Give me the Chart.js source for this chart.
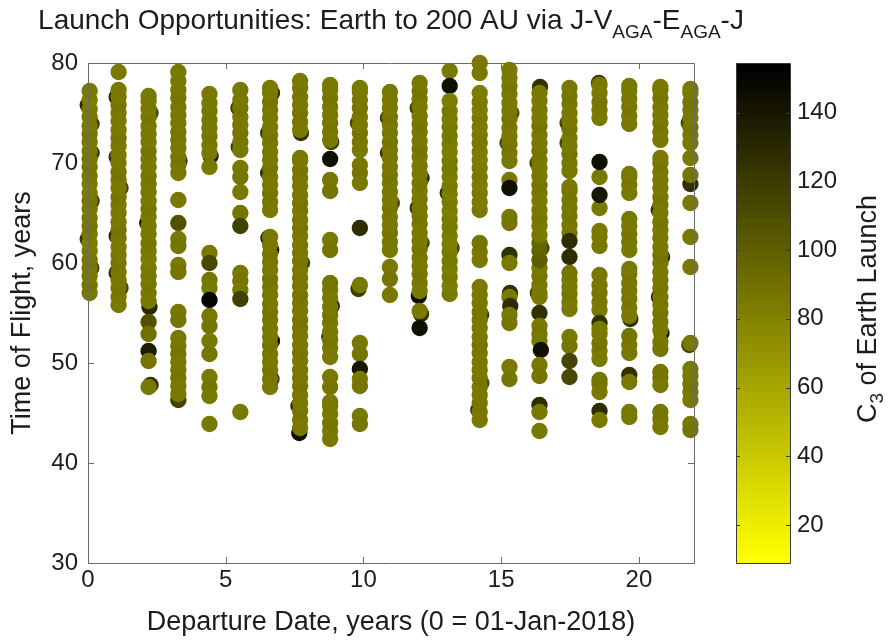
<!DOCTYPE html>
<html>
<head>
<meta charset="utf-8">
<title>Launch Opportunities: Earth to 200 AU</title>
<script src="https://cdn.jsdelivr.net/npm/chart.js@4/dist/chart.umd.min.js"></script>
<style>
  html, body { margin: 0; padding: 0; background: #ffffff; }
  canvas { display: block; }
</style>
</head>
<body>
<canvas id="chart" width="893" height="642"></canvas>
<script>
// Launch window centres, years after 01-Jan-2018 (one window per Jupiter synodic period)
const windowDeparture = [0.06, 1.11, 2.20, 3.28, 4.41, 5.53, 6.61, 7.70, 8.79, 9.87, 10.96,
                         12.04, 13.13, 14.22, 15.30, 16.39, 17.48, 18.57, 19.65, 20.78, 21.87];

// Trajectories found in each window: [time of flight (yr), C3 (km^2/s^2), departure shift (yr)]
const w00 = [[75.8,128,-0.07],[73.9,120,0.07],[71.0,125,0.07],[66.2,118,0.07],[62.4,122,-0.07],[59.5,118,0.06],
  [57.0,85],[57.8,87],[58.7,84],[59.5,86],[60.3,88],[61.2,85],[62.0,83],[62.9,86],[63.7,87],[64.5,84],[65.4,86],
  [66.2,88],[67.0,85],[67.9,83],[68.7,86],[69.6,87],[70.4,84],[71.2,86],[72.1,85],[72.9,87],[73.7,84],[74.6,86],
  [75.4,85],[76.3,83],[77.2,86]];
const w01 = [[76.6,130,-0.07],[70.6,125,-0.07],[67.5,118,0.07],[62.7,130,-0.07],[59.0,128,-0.07],[57.5,115,0.07],
  [55.8,86],[56.6,84],[57.5,87],[58.3,85],[59.1,86],[60.0,88],[60.8,85],[61.6,84],[62.5,86],[63.3,87],[64.1,85],
  [65.0,86],[65.8,84],[66.6,87],[67.5,85],[68.3,86],[69.1,88],[70.0,85],[70.8,84],[71.7,86],[72.5,87],[73.3,85],
  [74.2,86],[75.0,84],[75.8,87],[76.6,85],[77.3,86],[79.1,85]];
const w02 = [[75.0,115,0.07],[64.0,140,-0.05],[55.6,130,0.03],[47.8,125,0.07],
  [56.2,86],[57.0,84],[57.9,87],[58.7,85],[59.5,86],[60.4,83],[61.2,86],[62.0,88],[62.9,85],[63.7,86],[64.6,84],
  [65.4,87],[66.2,85],[67.1,86],[67.9,84],[68.7,87],[69.6,85],[70.4,86],[71.2,88],[72.1,85],[72.9,84],[73.7,86],
  [74.6,87],[75.4,85],[76.2,86],[76.7,84],
  [54.1,108],[52.9,90],[51.2,138],[50.2,88],[47.6,86]];
const w03 = [[70.2,125,0.04],
  [69.0,86],[69.8,84],[70.6,87],[71.5,85],[72.3,86],[73.1,88],[74.0,85],[74.8,84],[75.6,86],[76.5,87],[77.3,85],
  [78.2,86],[79.1,84],
  [66.3,86],[64.0,108],[62.4,86],[61.7,88],[59.8,86],[59.1,88],[55.1,86],[54.3,88],
  [46.3,118],[52.5,86],[51.7,84],[50.9,87],[50.1,85],[49.3,86],[48.5,88],[47.7,85],[46.9,86]];
const w04 = [[70.7,135,0.04],
  [71.0,86],[71.8,84],[72.7,87],[73.5,85],[74.3,86],[75.2,88],[76.0,85],[76.9,86],
  [69.6,86],[61.0,86],[60.0,112],[58.3,88],[57.5,86],[56.3,150],[54.7,86],[53.7,88],[52.2,86],[50.9,88],
  [48.6,86],[47.6,88],[46.7,86],[43.9,86]];
const w05 = [[75.5,118,-0.07],[71.6,120,-0.06],
  [71.3,86],[72.1,84],[73.0,87],[73.8,85],[74.6,86],[75.5,88],[76.3,85],[77.3,86],
  [69.5,86],[68.6,88],[67.1,86],[65.0,88],[63.7,118],[59.0,86],[58.2,88],[57.3,86],[56.4,118],[45.1,86]];
const w06 = [[77.0,125,0.07],[73.0,120,-0.07],[69.0,125,-0.07],[62.5,130,-0.06],[61.3,140,0.04],[52.2,140,0.07],
  [48.4,125,0.05],
  [65.3,86],[66.1,84],[67.0,87],[67.8,85],[68.6,86],[69.5,88],[70.3,85],[71.1,84],[72.0,86],[72.8,87],[73.6,85],
  [74.5,86],[75.3,84],[76.1,87],[77.0,85],[77.5,86],
  [47.6,86],[48.4,84],[49.3,87],[50.1,85],[50.9,86],[51.8,88],[52.6,85],[53.4,84],[54.3,86],[55.1,87],[55.9,85],
  [56.8,86],[57.6,84],[58.4,87],[59.3,85],[60.1,86],[60.9,88],[61.8,85],[62.6,84]];
const w07 = [[73.0,125,0.03],[45.7,130,-0.06],[43.0,145,-0.03],[60.0,118,0.07],
  [73.3,86],[74.1,84],[75.0,87],[75.8,85],[76.6,86],[77.5,88],[78.2,85],
  [43.5,86],[44.3,84],[45.2,87],[46.0,85],[46.8,86],[47.7,88],[48.5,85],[49.3,84],[50.2,86],[51.0,87],[51.8,85],
  [52.7,86],[53.5,84],[54.3,87],[55.2,85],[56.0,86],[56.8,88],[57.7,85],[58.5,84],[59.3,86],[60.2,87],[61.0,85],
  [61.8,86],[62.7,84],[63.5,87],[64.3,85],[65.2,86],[66.0,88],[66.8,85],[67.7,84],[68.5,86],[69.3,87],[70.2,85],
  [70.5,86]];
const w08 = [[72.1,120,0.04],[55.7,128,0.06],[52.6,135,-0.03],
  [72.3,86],[73.1,84],[74.0,87],[74.8,85],[75.6,86],[76.5,88],[77.3,85],[77.8,86],
  [70.4,145],[68.3,86],[67.2,88],[62.3,86],[61.3,88],
  [50.6,86],[51.5,84],[52.3,87],[53.1,85],[54.0,86],[54.8,88],[55.6,85],[56.5,84],[57.3,86],[58.0,87],
  [48.6,86],[47.6,88],
  [42.4,86],[43.2,84],[44.0,87],[44.9,85],[45.7,86],[46.1,84]];
const w09 = [[74.0,115,-0.07],
  [71.3,86],[72.1,84],[73.0,87],[73.8,85],[74.6,86],[75.5,88],[76.3,85],[77.1,86],[77.5,84],
  [69.8,86],[69.0,88],[68.0,86],[63.5,128],[57.4,120,-0.05],[57.8,86],
  [52.0,86],[50.9,88],[49.4,140],[48.4,86],[47.7,88],[44.7,86],[43.9,88]];
const w10 = [[74.5,118,-0.07],[71.0,120,-0.07],[66.0,110,0.07],
  [61.3,86],[62.1,84],[63.0,87],[63.8,85],[64.6,86],[65.5,88],[66.3,85],[67.1,84],[68.0,86],[68.8,87],[69.6,85],
  [70.5,86],[71.3,84],[72.1,87],[73.0,85],[73.8,86],[74.6,88],[75.5,85],[76.3,84],[77.1,86],
  [59.6,86],[58.4,88],[56.8,86]];
const w11 = [[75.5,120,-0.07],[68.5,125,0.07],[65.5,125,-0.07],[62.0,118,0.07],[56.7,145,-0.03],
  [57.2,86],[58.0,84],[58.9,87],[59.7,85],[60.5,86],[61.4,88],[62.2,85],[63.0,84],[63.9,86],[64.7,87],[65.5,85],
  [66.4,86],[67.2,84],[68.0,87],[68.9,85],[69.7,86],[70.6,84],[71.4,87],[72.2,85],[73.1,86],[73.9,88],[74.7,85],
  [75.6,84],[76.4,86],[77.2,87],[78.0,85],
  [54.9,125,0.05],[55.2,86],[53.5,145]];
const w12 = [[79.2,84],[77.7,145],[67.0,125,-0.07],[61.5,115,0.07],
  [56.9,84],[57.7,82],[58.6,85],[59.4,83],[60.2,84],[61.1,86],[61.9,83],[62.7,82],[63.6,84],[64.4,85],[65.2,83],
  [66.1,84],[66.9,82],[67.7,85],[68.6,83],[69.4,84],[70.2,86],[71.1,83],[71.9,82],[72.7,84],[73.6,85],[74.4,83],
  [75.2,84],[76.2,82]];
const w13 = [[80.0,84],[79.0,86],[54.8,125,0.05],[45.3,125,-0.05],[48.0,110,0.06],
  [65.3,84],[66.1,82],[67.0,85],[67.8,83],[68.6,84],[69.5,86],[70.3,83],[71.1,82],[72.0,84],[72.8,85],[73.6,83],
  [74.5,84],[75.3,82],[76.1,85],[77.0,83],
  [60.3,86],[61.1,84],[62.0,87],
  [44.3,86],[45.1,84],[46.0,87],[46.8,85],[47.6,86],[48.5,88],[49.3,85],[50.1,84],[51.0,86],[51.8,87],[52.6,85],
  [53.5,86],[54.3,84],[55.1,87],[56.0,85],[56.8,86],[57.6,84]];
const w14 = [[72.0,115,-0.07],[75.0,110,0.07],
  [70.2,86],[71.0,84],[71.9,87],[72.7,85],[73.5,86],[74.4,88],[75.2,85],[76.0,84],[76.9,86],[77.7,87],[78.5,85],
  [79.3,86],
  [68.3,86],[67.5,145],[64.6,86],[64.0,88],[60.8,125],[60.0,86],[57.0,125,0.02],[56.6,86],[55.7,128,0.03],
  [54.8,86],[54.0,88],[49.6,86],[48.4,88]];
const w15 = [[77.6,125,0.02],[70.0,115,-0.07],[61.5,118,0.07],[57.0,115,-0.06],
  [57.0,86],[57.8,84],[58.7,87],[59.5,85],[60.3,100],[61.2,98],[62.0,96],[62.8,85],[63.7,86],[64.5,88],[65.3,85],
  [66.2,84],[67.0,86],[67.8,87],[68.7,85],[69.5,86],[70.3,84],[71.2,87],[72.0,85],[72.8,86],[73.7,88],[74.5,85],
  [75.3,84],[76.2,86],[77.0,85],
  [56.6,86],[55.0,125],[53.7,86],[52.9,88],[52.2,86],[51.3,145,0.05],[49.8,86],[48.7,88],[45.8,128],[45.1,86],
  [43.2,86]];
const w16 = [[74.0,118,-0.07],[72.0,115,-0.07],
  [69.2,86],[70.0,84],[70.9,87],[71.7,85],[72.5,86],[73.4,88],[74.2,85],[75.0,84],[75.9,86],[76.7,87],[77.5,85],
  [63.0,86],[63.8,84],[64.7,87],[65.5,85],[66.3,86],[67.2,88],[67.6,85],
  [62.2,128],[60.6,128],
  [55.4,86],[56.1,84],[56.9,87],[57.6,85],[58.3,86],[59.0,88],
  [52.6,86],[51.7,88],[50.2,115],[48.6,112]];
const w17 = [[78.0,120,-0.02],
  [74.5,86],[75.3,84],[76.1,87],[77.0,85],[77.8,86],
  [68.6,86],[70.1,145],[65.5,86],[66.8,140],
  [61.7,86],[62.6,84],[63.2,86],
  [55.3,86],[56.1,84],[57.0,87],[57.8,85],[58.8,86],
  [54.0,125],
  [50.4,86],[51.2,84],[52.0,87],[52.9,85],[53.4,86],
  [47.1,86],[47.9,84],[48.3,87],
  [45.2,128],[44.3,86]];
const w18 = [[54.4,125,0.04],[48.8,125],
  [73.9,86],[74.7,84],[75.6,87],[76.4,85],[77.2,86],[77.7,84],
  [67.0,86],[67.8,84],[68.6,87],[68.9,85],
  [61.3,86],[62.1,84],[62.9,87],[63.7,85],[64.4,86],
  [54.7,86],[55.5,84],[56.4,87],[57.2,85],[58.0,86],[58.9,88],[59.4,85],
  [51.0,86],[51.8,84],[52.7,87],
  [48.1,86],[45.1,86],[44.6,84]];
const w19 = [[65.3,125,-0.06],[60.6,125,0.06],[56.6,140,-0.05],[53.0,145,0.04],
  [72.3,86],[73.1,84],[74.0,87],[74.8,85],[75.6,86],[76.5,88],[77.3,85],[77.6,86],
  [53.3,86],[54.1,84],[55.0,87],[55.8,85],[56.6,86],[57.5,88],[58.3,85],[59.1,84],[60.0,86],[60.8,87],[61.6,85],
  [62.5,86],[63.3,84],[64.1,87],[65.0,85],[65.8,86],[66.6,88],[67.5,85],[68.3,84],[69.1,86],[70.0,87],[70.5,85],
  [52.1,86],[51.4,88],
  [47.8,86],[48.5,84],[49.1,87],
  [43.6,86],[44.4,84],[45.1,87]];
const w20 = [[74.0,115,-0.06],[67.9,128],[51.8,115,-0.04],
  [72.0,86],[72.8,84],[73.6,87],[74.5,85],[75.3,86],[76.1,88],[77.0,85],[77.4,86],
  [70.5,86],[68.8,88],[66.0,86],[62.6,86],[59.6,86],
  [52.0,86],
  [46.3,86],[47.1,84],[47.9,87],[48.7,85],[49.4,86],
  [43.9,86],[43.3,88]];

const launchWindows = [w00, w01, w02, w03, w04, w05, w06, w07, w08, w09, w10,
                       w11, w12, w13, w14, w15, w16, w17, w18, w19, w20];

// Tick labels
const departureTicks = [0, 5, 10, 15, 20];
const flightTimeTicks = [30, 40, 50, 60, 70, 80];
const c3Ticks = [20, 40, 60, 80, 100, 120, 140];
const c3Limits = [9, 154.4];

const FONT = "'Liberation Sans', Arial, Helvetica, sans-serif";
const TEXT = '#1c1c1c';

// Yellow-to-black colormap, 64 levels
const LEVELS = 64;
function c3Level(v) {
  const f = (v - c3Limits[0]) / (c3Limits[1] - c3Limits[0]);
  return Math.max(0, Math.min(LEVELS - 1, Math.floor(f * LEVELS)));
}
function levelColor(i) {
  const g = Math.round(255 * (1 - i / (LEVELS - 1)));
  return 'rgb(' + g + ',' + g + ',0)';
}
function c3Color(v) { return levelColor(c3Level(v)); }

const points = [];
launchWindows.forEach((rows, k) => {
  rows.forEach(r => points.push({ x: windowDeparture[k] + (r[2] || 0), y: r[0], c: r[1] }));
});

// Title with TeX-style subscripts
const titlePlugin = {
  id: 'subscriptTitle',
  afterDraw(chart) {
    const ctx = chart.ctx;
    const parts = [
      ['Launch Opportunities: Earth to 200 AU via J-V', false],
      ['AGA', true], ['-E', false], ['AGA', true], ['-J', false]
    ];
    const big = '28px ' + FONT, small = '19px ' + FONT;
    ctx.save();
    let total = 0;
    parts.forEach(p => { ctx.font = p[1] ? small : big; total += ctx.measureText(p[0]).width; });
    const area = chart.chartArea;
    let x = (area.left + area.right) / 2 - total / 2;
    const base = 29;
    ctx.fillStyle = TEXT;
    ctx.textBaseline = 'alphabetic';
    ctx.textAlign = 'left';
    parts.forEach(p => {
      ctx.font = p[1] ? small : big;
      ctx.fillText(p[0], x, p[1] ? base + 9 : base);
      x += ctx.measureText(p[0]).width;
    });
    ctx.restore();
  }
};

// Axes box with inward ticks
const framePlugin = {
  id: 'axesFrame',
  afterDatasetsDraw(chart) {
    const ctx = chart.ctx;
    const { left, right, top, bottom } = chart.chartArea;
    const xs = chart.scales.x, ys = chart.scales.y;
    ctx.save();
    ctx.strokeStyle = '#6a6a6a';
    ctx.lineWidth = 1;
    ctx.beginPath();
    ctx.rect(left + 0.5, top + 0.5, right - left, bottom - top);
    departureTicks.forEach(v => {
      const px = Math.round(xs.getPixelForValue(v)) + 0.5;
      ctx.moveTo(px, bottom); ctx.lineTo(px, bottom - 6);
      ctx.moveTo(px, top); ctx.lineTo(px, top + 6);
    });
    flightTimeTicks.forEach(v => {
      const py = Math.round(ys.getPixelForValue(v)) + 0.5;
      ctx.moveTo(left, py); ctx.lineTo(left + 6, py);
      ctx.moveTo(right, py); ctx.lineTo(right - 6, py);
    });
    ctx.stroke();
    ctx.restore();
  }
};

// Colour bar on the C3 scale
const colorbarPlugin = {
  id: 'c3Colorbar',
  afterDraw(chart) {
    const ctx = chart.ctx;
    const s = chart.scales.c3;
    const x0 = s.left + 42, w = 54;
    const span = c3Limits[1] - c3Limits[0];
    ctx.save();
    for (let i = 0; i < LEVELS; i++) {
      const vLo = c3Limits[0] + span * i / LEVELS;
      const vHi = c3Limits[0] + span * (i + 1) / LEVELS;
      const yTop = s.getPixelForValue(vHi), yBot = s.getPixelForValue(vLo);
      ctx.fillStyle = levelColor(i);
      ctx.fillRect(x0, yTop, w, yBot - yTop + 0.6);
    }
    const yTop = s.getPixelForValue(c3Limits[1]), yBot = s.getPixelForValue(c3Limits[0]);
    ctx.strokeStyle = '#3a3a3a';
    ctx.lineWidth = 1;
    ctx.beginPath();
    ctx.rect(x0 + 0.5, Math.round(yTop) + 0.5, w, Math.round(yBot - yTop));
    c3Ticks.forEach(v => {
      const py = Math.round(s.getPixelForValue(v)) + 0.5;
      ctx.moveTo(x0, py); ctx.lineTo(x0 + 4, py);
      ctx.moveTo(x0 + w, py); ctx.lineTo(x0 + w - 4, py);
    });
    ctx.stroke();

    // Axis label: C_3 of Earth Launch
    const big = '27px ' + FONT, small = '19px ' + FONT;
    const parts = [['C', false], ['3', true], [' of Earth Launch', false]];
    let total = 0;
    parts.forEach(p => { ctx.font = p[1] ? small : big; total += ctx.measureText(p[0]).width; });
    ctx.translate(876, (s.top + s.bottom) / 2 - 4);
    ctx.rotate(-Math.PI / 2);
    ctx.fillStyle = TEXT;
    ctx.textBaseline = 'alphabetic';
    let x = -total / 2;
    parts.forEach(p => {
      ctx.font = p[1] ? small : big;
      ctx.fillText(p[0], x, p[1] ? 7 : 0);
      x += ctx.measureText(p[0]).width;
    });
    ctx.restore();
  }
};

const tickFont = { family: FONT, size: 24 };
const labelFont = { family: FONT, size: 27 };

// Fixed axis box sizes so the plot frame sits where the figure puts it
function fixBox(size, key) {
  return s => {
    s[key] = size;
    s.paddingTop = 0; s.paddingBottom = 0; s.paddingLeft = 0; s.paddingRight = 0;
  };
}

new Chart(document.getElementById('chart').getContext('2d'), {
  type: 'scatter',
  data: {
    datasets: [{
      data: points,
      pointRadius: 8.2,
      pointHoverRadius: 8.2,
      borderWidth: 0,
      pointBorderWidth: 0,
      backgroundColor: c => (c.raw ? c3Color(c.raw.c) : '#808000'),
      clip: false
    }]
  },
  options: {
    responsive: false,
    animation: false,
    devicePixelRatio: 1,
    events: [],
    layout: { padding: { top: 63, left: 0, right: 0, bottom: 0 } },
    plugins: { legend: { display: false }, tooltip: { enabled: false }, title: { display: false } },
    scales: {
      x: {
        type: 'linear', position: 'bottom', min: 0, max: 22, bounds: 'data',
        afterFit: fixBox(79, 'height'),
        afterBuildTicks: s => { s.ticks = departureTicks.map(v => ({ value: v })); },
        grid: { display: false, drawTicks: false },
        border: { display: false },
        ticks: { padding: 3, color: TEXT, font: tickFont, maxRotation: 0, autoSkip: false },
        title: { display: true, text: 'Departure Date, years (0 = 01-Jan-2018)', color: TEXT, font: labelFont,
                 padding: { top: 0, bottom: 3 } }
      },
      y: {
        type: 'linear', position: 'left', min: 30, max: 80, bounds: 'data',
        afterFit: fixBox(88, 'width'),
        afterBuildTicks: s => { s.ticks = flightTimeTicks.map(v => ({ value: v })); },
        grid: { display: false, drawTicks: false },
        border: { display: false },
        ticks: { padding: 10, color: TEXT, font: tickFont, autoSkip: false },
        title: { display: true, text: 'Time of Flight, years', color: TEXT, font: labelFont,
                 padding: { top: 6, bottom: 0 } }
      },
      c3: {
        type: 'linear', position: 'right', min: c3Limits[0], max: c3Limits[1], bounds: 'data',
        afterFit: fixBox(199, 'width'),
        afterBuildTicks: s => { s.ticks = c3Ticks.map(v => ({ value: v })); },
        grid: { display: false, drawTicks: false },
        border: { display: false },
        ticks: { padding: 103, color: TEXT, font: tickFont, autoSkip: false }
      }
    }
  },
  plugins: [framePlugin, colorbarPlugin, titlePlugin]
});
</script>
</body>
</html>
